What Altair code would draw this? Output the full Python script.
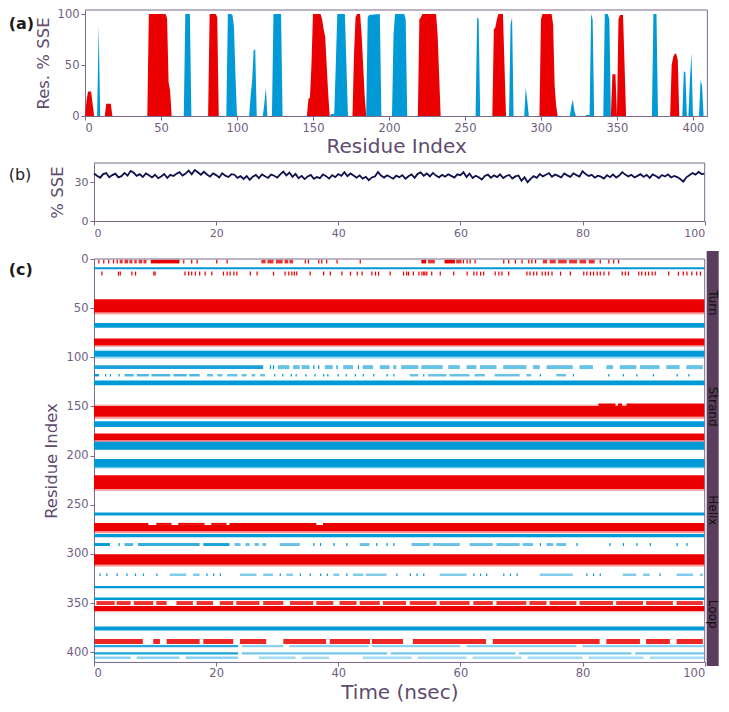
import altair as alt
import pandas as pd

FONT = "DejaVu Sans"
HELIX_COLOR = "#ea0000"
STRAND_COLOR = "#0199d6"
LINE_COLOR = "#0f0f4d"
LABEL_COLOR = "#6e5d80"
TITLE_COLOR = "#5e4b6e"
FRAME_COLOR = "#7b688a"
SIDEBAR_COLOR = "#5b3d5d"

# ---------------- panel (a): per-residue % SSE ----------------
helix_res = [0, 1, 2, 3, 4, 5, 6, 13, 14, 15, 16, 17, 18, 41, 42, 53, 54, 55, 56, 57,
             81, 82, 86, 87, 88, 146, 147, 148, 149, 150, 155, 156, 157, 158, 159, 160, 161,
             176, 177, 178, 179, 181, 182, 183, 184, 185, 219, 220, 221, 222, 231, 232, 233, 234,
             268, 269, 270, 271, 272, 275, 276, 277, 299, 300, 301, 307, 308, 309, 310, 311,
             346, 347, 349, 350, 351, 352, 354, 355, 356, 385, 386, 387, 388, 389, 390, 391, 409]
helix_pct = [0, 15, 24, 24, 24, 12, 0, 0, 12, 12, 12, 12, 0, 0, 100, 100, 96, 33, 25, 0,
             0, 100, 100, 97, 0, 0, 17, 18, 50, 100, 100, 95, 85, 78, 50, 22, 0,
             0, 60, 97, 100, 100, 80, 50, 20, 0, 0, 95, 97, 100, 100, 80, 40, 0,
             0, 85, 87, 95, 100, 100, 50, 0, 0, 95, 100, 100, 90, 30, 10, 0,
             0, 41, 41, 0, 95, 99, 99, 50, 0, 0, 50, 58, 61, 61, 55, 0, 0]
strand_res = [0, 8, 9, 10, 65, 66, 69, 70, 93, 94, 96, 97, 98, 99, 100,
              108, 109, 110, 111, 112, 113, 117, 118, 119, 120, 123, 124, 129, 130,
              161, 162, 164, 165, 166, 171, 172, 173, 185, 186, 187, 194, 195,
              202, 203, 204, 210, 211, 212, 257, 258, 259, 260, 279, 280, 281, 282,
              289, 290, 291, 292, 319, 320, 321, 322, 323, 329, 330, 332, 333, 334, 335,
              341, 342, 344, 345, 346, 373, 374, 376, 377, 393, 394, 395, 396,
              397, 398, 399, 400, 404, 405, 406, 407, 409]
strand_pct = [0, 0, 89, 0, 0, 100, 100, 0, 0, 100, 100, 99, 88, 40, 0,
              0, 20, 35, 65, 65, 0, 0, 12, 28, 0, 0, 100, 100, 0,
              0, 2, 2, 50, 100, 100, 50, 0, 0, 97, 99, 100, 0,
              0, 80, 100, 100, 95, 0, 0, 97, 95, 0, 0, 90, 97, 0,
              0, 28, 15, 0, 0, 10, 16, 5, 0, 0, 1, 1, 100, 95, 0,
              0, 100, 100, 95, 0, 0, 100, 100, 0, 0, 44, 43, 0,
              0, 35, 62, 0, 0, 35, 30, 0, 0]
res_ticks = [0, 50, 100, 150, 200, 250, 300, 350, 400]
pct_ticks = [0, 25, 50, 75, 100]
RES_MAX_A = 409.5
PCT_MAX = 104

# ---------------- panel (b): total % SSE vs time (every 0.5 ns) ----------------
sse_total = [
    36.9, 35.1, 33.6, 36.4, 37.2, 34.0, 35.6, 36.8, 33.9, 34.8, 37.3, 35.2, 38.9, 37.4, 35.0, 36.3, 34.1, 36.9, 35.5, 33.8,
    35.9, 33.2, 34.6, 36.5, 33.4, 35.8, 34.9, 36.7, 37.9, 35.3, 36.8, 39.1, 36.2, 39.6, 37.8, 35.9, 38.2, 36.1, 34.4, 36.9,
    35.6, 33.8, 37.0, 35.2, 34.1, 36.3, 35.9, 33.5, 34.8, 32.6, 34.9, 31.9, 34.4, 35.7, 33.2, 36.1, 34.7, 33.4, 36.0, 35.1,
    33.6, 36.2, 38.3, 35.4, 37.6, 34.3, 36.5, 33.2, 35.0, 32.5, 34.6, 35.8, 32.7, 34.1, 33.3, 36.2, 34.8, 32.9, 35.6, 34.0,
    36.4, 35.0, 37.8, 34.7, 36.9, 35.3, 33.6, 35.4, 32.9, 34.3, 31.7, 33.8, 34.6, 38.1, 35.2, 33.7, 35.5, 34.1, 32.8, 35.2,
    33.9, 35.6, 32.8, 34.7, 36.1, 33.5, 36.6, 37.7, 35.1, 36.9, 34.6, 37.3, 35.2, 33.9, 35.8, 34.4, 36.3, 35.0, 33.7, 36.2,
    35.5, 37.9, 34.2, 36.8, 33.4, 35.1, 34.0, 32.2, 34.9, 36.0, 33.6, 35.4, 34.1, 36.2, 33.3, 34.9, 35.7, 32.9, 34.6, 35.3,
    31.2, 33.9, 30.1, 32.7, 34.8, 33.5, 36.4, 34.6, 35.9, 37.2, 34.3, 36.1, 35.0, 33.8, 36.9, 35.4, 34.2, 37.0, 35.6, 34.5,
    38.6, 36.4, 34.9, 35.8, 33.6, 35.2, 34.4, 32.9, 35.6, 34.0, 36.1, 33.7, 35.3, 37.9, 36.0, 34.6, 35.9, 33.8, 35.0, 36.3,
    34.2, 35.8, 33.4, 36.1, 34.9, 33.3, 35.7, 34.5, 36.2, 33.8, 35.0, 34.1, 32.6, 30.6, 33.9, 35.5, 37.2, 36.0, 38.1, 36.4,
    36.7]
SSE_DT = 0.5
time_ticks = [0, 20, 40, 60, 80, 100]
sse_ticks = [0, 15, 30]
SSE_MAX = 45

# ---------------- panel (c): SSE timeline per residue ----------------
RES_MAX_C = 410
helix_bands = [(41, 54.5), (81, 88), (149.5, 160.5), (177.5, 184.5), (220, 234),
               (270.5, 277), (300.5, 311), (353, 358)]
strand_bands = [(8.4, 10.4), (65, 70), (93.5, 99.5), (123.5, 128.5), (165, 171), (186, 194),
                (203.4, 212), (257.8, 261), (279.7, 283), (332.6, 335), (344.3, 347), (374, 378)]
band_fringes = [("Helix", 54.5, 56.5, 0.35), ("Helix", 88, 89.5, 0.3), ("Helix", 148, 149.5, 0.3),
                ("Helix", 160.5, 162.5, 0.4), ("Helix", 184.5, 186.5, 0.45), ("Helix", 234, 236, 0.35),
                ("Helix", 277, 279, 0.4), ("Helix", 311, 313, 0.35), ("Helix", 358, 359.5, 0.3),
                ("Strand", 99.5, 101.5, 0.35), ("Strand", 212, 213.5, 0.25), ("Strand", 92, 93.5, 0.3)]
helix_150_top = [[82.6, 85.4, 1], [85.8, 86.5, 1], [87.2, 100, 1]]
helix_270_top = [[0, 8.9, 1], [10.2, 12.7, 1], [13.8, 18.1, 1], [19.2, 21.7, 1], [22.2, 36.4, 1], [37.5, 100, 1]]
helix_2_ticks = [0.7, 1.5, 2.3, 3.1, 3.7, 14.6, 15.9, 16.8, 20.0, 21.7, 34.5, 35.0, 36.7, 37.2, 38.0, 39.7,
                 43.5, 60.4, 61.0, 61.5, 62.3, 67.0, 67.8, 68.9, 70.0, 71.1, 71.6, 72.2, 82.8, 84.2, 85.0, 85.8]
helix_2_segs = [[4.2, 4.7, .8], [5.0, 5.6, .8], [5.8, 6.3, .8], [6.6, 7.0, .8], [7.3, 7.9, .8], [8.1, 8.6, .8],
                [9.3, 14.0, 1], [27.4, 28.1, .8], [28.4, 29.4, .8], [29.8, 30.9, .8], [31.2, 31.8, .8],
                [32.0, 32.6, .8], [53.6, 54.4, 1], [54.7, 55.8, .8], [57.4, 59.1, 1], [59.3, 60.2, .8],
                [73.5, 74.2, .8], [74.6, 75.6, .8], [76.0, 77.4, .8], [77.8, 79.1, .8], [79.5, 80.6, .8],
                [81.0, 82.0, .8]]
helix_15_ticks = [1.2, 3.9, 4.2, 6.1, 6.7, 9.7, 9.9, 14.8, 15.4, 15.9, 16.5, 17.2, 18.1, 19.2, 21.1, 21.7,
                  22.2, 22.8, 23.3, 25.5, 26.6, 29.3, 31.2, 31.8, 32.3, 32.7, 33.1, 35.3, 37.5, 38.6, 40.5,
                  41.9, 43.0, 43.8, 45.4, 46.0, 46.5, 48.4, 50.6, 51.1, 51.4, 52.2, 53.1, 53.6, 53.9, 54.1,
                  54.4, 55.2, 56.6, 58.8, 61.0, 62.1, 62.6, 63.2, 63.7, 65.6, 66.2, 66.7, 67.8, 70.8, 71.3,
                  71.9, 72.4, 73.3, 73.8, 74.3, 74.9, 76.3, 77.9, 80.1, 80.6, 81.2, 81.7, 82.3, 82.8, 83.4,
                  84.2, 86.4, 86.9, 87.4, 89.1, 89.6, 90.2, 90.7, 91.3, 91.8, 94.0, 95.6, 96.4, 97.0, 97.8,
                  98.6, 99.2]
strand_110 = [[0, 27.7, .9], [28.8, 29.0, 1], [29.3, 29.5, 1], [30.1, 32.0, .6], [32.6, 33.7, .6], [34.0, 35.3, .6],
              [35.9, 36.1, 1], [36.7, 36.9, 1], [37.8, 39.1, .6], [39.7, 39.9, 1], [40.8, 42.4, .6], [43.2, 43.4, 1],
              [44.0, 45.7, .6], [46.8, 48.4, .6], [49.0, 49.5, .6], [50.3, 53.1, .6], [53.6, 57.1, .6], [58.0, 59.9, .6],
              [61.0, 62.6, .6], [63.2, 65.9, .6], [67.0, 70.8, .6], [71.9, 73.0, .6], [74.1, 78.4, .6], [79.5, 81.7, .6],
              [83.9, 85.0, .6], [86.1, 88.8, .6], [89.4, 92.6, .6], [93.7, 95.9, .6], [97.0, 99.7, .6]]
strand_118 = [[0, 0.8, 1], [1.8, 2.0, 1], [2.6, 2.8, 1], [4.0, 4.2, 1], [5.0, 6.5, .7], [7.0, 9.0, .7], [9.4, 12.5, .7],
              [13.0, 15.2, .7], [15.6, 17.3, .7], [18.5, 19.5, .6], [20.2, 21.0, .6], [21.8, 23.5, .6], [24.2, 25.0, .6],
              [25.8, 26.4, .6], [27.2, 28.0, .6], [29.5, 29.7, 1], [30.8, 31.0, 1], [32.2, 32.4, 1], [33.0, 33.2, 1],
              [34.6, 34.8, 1], [36.1, 36.3, 1], [37.5, 37.7, 1], [38.2, 38.4, 1], [39.9, 40.1, 1], [41.2, 41.4, 1],
              [42.7, 42.9, 1], [44.0, 44.2, 1], [45.7, 45.9, 1], [47.9, 48.1, 1], [49.0, 49.2, 1], [51.7, 53.1, .6],
              [53.9, 54.1, 1], [54.7, 57.7, .6], [58.2, 61.5, .6], [62.3, 64.0, .6], [65.6, 69.7, .6], [70.8, 71.6, .6],
              [73.0, 73.2, 1], [75.7, 77.3, .6], [78.4, 78.6, 1], [84.2, 84.4, 1], [86.6, 86.8, 1], [88.8, 89.0, 1],
              [91.5, 91.7, 1], [95.4, 95.6, 1], [97.3, 97.5, 1]]
strand_290 = [[0, 2.6, 1], [4.0, 4.2, 1], [5.0, 6.4, .7], [7.2, 17.3, .8], [17.9, 22.2, .9], [23.0, 24.0, .6],
              [24.8, 25.5, .6], [26.3, 27.0, .6], [27.6, 28.2, .6], [30.4, 33.7, .6], [35.9, 36.1, 1], [37.0, 37.2, 1],
              [39.2, 39.4, 1], [41.3, 41.5, 1], [43.5, 45.1, .6], [46.2, 46.4, 1], [47.9, 48.1, 1], [49.0, 49.2, 1],
              [52.0, 55.0, .6], [55.5, 59.9, .6], [61.5, 65.3, .6], [65.9, 69.7, .6], [70.2, 71.9, .6], [73.0, 73.2, 1],
              [74.1, 75.2, .6], [75.7, 77.3, .6], [79.0, 79.2, 1], [84.4, 84.6, 1], [86.6, 86.8, 1], [88.8, 89.0, 1],
              [91.0, 91.2, 1], [95.4, 95.6, 1], [97.0, 97.2, 1]]
strand_321 = [[0.9, 1.1, 1], [2.0, 2.2, 1], [3.7, 3.9, 1], [5.3, 5.5, 1], [6.7, 6.9, 1], [8.0, 8.2, 1], [10.2, 10.4, 1],
              [12.4, 15.1, .5], [16.2, 17.3, .5], [18.4, 18.6, 1], [19.5, 19.7, 1], [20.6, 20.8, 1], [23.9, 26.6, .5],
              [27.7, 29.3, .5], [30.4, 30.6, 1], [31.5, 32.6, .5], [33.7, 33.9, 1], [35.3, 35.5, 1], [37.0, 37.2, 1],
              [38.1, 38.3, 1], [39.2, 40.2, .5], [41.3, 41.5, 1], [42.4, 44.1, .5], [44.5, 47.9, .5], [49.5, 49.7, 1],
              [51.7, 51.9, 1], [52.8, 53.0, 1], [53.9, 54.1, 1], [56.6, 61.0, .5], [62.1, 62.3, 1], [63.2, 63.4, 1],
              [64.2, 64.4, 1], [67.0, 67.2, 1], [68.1, 68.3, 1], [69.2, 69.4, 1], [73.0, 78.4, .5], [80.6, 80.8, 1],
              [81.7, 81.9, 1], [82.8, 83.0, 1], [86.6, 88.8, .5], [89.9, 91.0, .5], [92.6, 92.8, 1], [95.4, 98.1, .5],
              [99.2, 99.7, .5]]
helix_350 = [[0.4, 3.4, .8], [3.7, 6.0, .8], [6.5, 9.7, .8], [10.2, 11.9, .8], [13.5, 16.2, .8], [16.8, 19.5, .8],
             [20.6, 22.8, .8], [23.3, 27.1, .8], [27.7, 31.0, .8], [32.1, 35.9, .8], [36.4, 39.2, .8], [40.2, 43.0, .8],
             [43.5, 46.8, .8], [47.3, 51.1, .8], [51.7, 56.1, .8], [56.6, 61.5, .8], [62.1, 65.3, .8], [65.9, 70.8, .8],
             [71.3, 74.1, .8], [74.6, 79.0, .8], [79.5, 85.0, .8], [85.5, 89.9, .8], [90.4, 94.8, .8], [95.4, 99.7, .8]]
helix_389 = [[0.1, 8.0, .85], [9.7, 10.8, .85], [11.9, 17.3, .85], [17.9, 22.8, .85], [23.9, 28.2, .85],
             [31.0, 38.0, .85], [38.6, 45.2, .85], [45.5, 50.6, .85], [52.2, 64.2, .85], [65.3, 82.8, .85],
             [83.9, 89.4, .85], [90.4, 94.3, .85], [95.4, 99.7, .85]]
strand_394 = [[0, 23.6, .85], [24.2, 31.0, .45], [32.0, 45.0, .45], [45.5, 60.0, .45], [61.0, 79.0, .45], [80.0, 100, .45]]
strand_401 = [[0, 23.6, .9], [24.2, 48.0, .55], [48.6, 69.0, .55], [69.6, 88.0, .55], [88.6, 100, .55]]
strand_405 = [[0, 6.0, .45], [7.0, 14.0, .45], [15.0, 23.6, .45], [27.0, 33.0, .35], [34.0, 38.5, .35],
              [44.0, 52.0, .35], [53.0, 61.0, .35], [62.0, 70.0, .35], [71.0, 80.0, .35], [81.0, 90.0, .35],
              [91.0, 100, .35]]
sse_states = ["Turn", "Strand", "Helix", "Loop"]
TICK_NS = 0.2

# ---------------- build tables ----------------
records = []


def add_row(sse, r0, r1, segs):
    for s in segs:
        records.append({"sse": sse, "r0": r0, "r1": r1, "t0": s[0], "t1": s[1], "op": s[2]})


for sse, r0, r1, d in band_fringes:
    add_row(sse, r0, r1, [[0, 100, d]])
for r0, r1 in helix_bands:
    add_row("Helix", r0, r1, [[0, 100, 1]])
for r0, r1 in strand_bands:
    add_row("Strand", r0, r1, [[0, 100, 1]])
add_row("Helix", 147, 149.5, helix_150_top)
add_row("Helix", 268.5, 270.5, helix_270_top)
add_row("Helix", 0.8, 4.5, helix_2_segs + [[t, t + TICK_NS, 1] for t in helix_2_ticks])
add_row("Helix", 12.8, 16.9, [[t, t + TICK_NS, 1] for t in helix_15_ticks])
add_row("Strand", 108, 112, strand_110)
add_row("Strand", 117, 119.5, strand_118)
add_row("Strand", 289, 292, strand_290)
add_row("Strand", 320, 322.5, strand_321)
add_row("Helix", 348, 352, helix_350)
add_row("Helix", 386.6, 391.7, helix_389)
add_row("Strand", 392.7, 395, strand_394)
add_row("Strand", 400, 402.5, strand_401)
add_row("Strand", 404.5, 407, strand_405)
df_c = pd.DataFrame(records)

df_a = pd.DataFrame({
    "res": helix_res + strand_res,
    "pct": helix_pct + strand_pct,
    "sse": ["Helix"] * len(helix_res) + ["Strand"] * len(strand_res),
})
df_b = pd.DataFrame({"time": [i * SSE_DT for i in range(len(sse_total))], "pct": sse_total})
one = pd.DataFrame({"k": [0]})

sse_color = alt.Color("sse:N", scale=alt.Scale(domain=["Helix", "Strand"], range=[HELIX_COLOR, STRAND_COLOR]),
                      legend=None)

W = 610.7
H_A, H_B, H_C = 106, 58, 403
LABEL_X = -85.3


def panel_label(text, y, bold):
    return alt.Chart(pd.DataFrame({"t": [text]})).mark_text(
        align="left", baseline="middle", font=FONT, fontSize=16,
        fontWeight="bold" if bold else "normal", color="#1a1a1a"
    ).encode(text="t:N", x=alt.value(LABEL_X), y=alt.value(y))


def rule(**enc):
    return alt.Chart(one).mark_rule(color=FRAME_COLOR, strokeWidth=1).encode(**enc)


# ---- panel a
area_a = alt.Chart(df_a).mark_area(interpolate="linear").encode(
    x=alt.X("res:Q", scale=alt.Scale(domain=[0, RES_MAX_A], range=[-9, W + 2.7], nice=False, zero=False),
            axis=alt.Axis(values=res_ticks, title="Residue Index", titleFontSize=20, titlePadding=3,
                          labelFontSize=11.5)),
    y=alt.Y("pct:Q", stack=None, scale=alt.Scale(domain=[0, PCT_MAX], nice=False),
            axis=alt.Axis(values=pct_ticks, title="Res. % SSE", titleFontSize=16.5, titlePadding=6,
                          offset=9, labelFontSize=11.5)),
    color=sse_color,
)
panel_a = alt.layer(
    area_a,
    rule(x=alt.datum(0), x2=alt.datum(RES_MAX_A), y=alt.datum(PCT_MAX)),
    rule(x=alt.datum(RES_MAX_A), y=alt.datum(0), y2=alt.datum(PCT_MAX)),
    panel_label("(a)", 14, True),
).properties(width=W, height=H_A)

# ---- panel b
line_b = alt.Chart(df_b).mark_line(color=LINE_COLOR, strokeWidth=1.8).encode(
    x=alt.X("time:Q", scale=alt.Scale(domain=[0, 100], nice=False),
            axis=alt.Axis(values=time_ticks, title=None, labelFontSize=11)),
    y=alt.Y("pct:Q", scale=alt.Scale(domain=[0, SSE_MAX], nice=False),
            axis=alt.Axis(values=sse_ticks, title="% SSE", titleFontSize=16.5, titlePadding=9,
                          labelFontSize=11)),
)
panel_b = alt.layer(
    line_b,
    rule(x=alt.datum(0), x2=alt.datum(100), y=alt.datum(SSE_MAX)),
    rule(x=alt.datum(100), y=alt.datum(0), y2=alt.datum(SSE_MAX)),
    panel_label("(b)", 12, False),
).properties(width=W, height=H_B)

# ---- panel c
rect_c = alt.Chart(df_c).mark_rect(strokeWidth=0).encode(
    x=alt.X("t0:Q", scale=alt.Scale(domain=[0, 100], nice=False),
            axis=alt.Axis(values=time_ticks, title="Time (nsec)", titleFontSize=20, titlePadding=3,
                          labelFontSize=11.5)),
    x2="t1:Q",
    y=alt.Y("r0:Q", scale=alt.Scale(domain=[0, RES_MAX_C], nice=False, reverse=True),
            axis=alt.Axis(values=res_ticks, title="Residue Index", titleFontSize=16.5, titlePadding=7,
                          labelFontSize=11.5)),
    y2="r1:Q",
    color=sse_color,
    opacity=alt.Opacity("op:Q", scale=None),
)

SIDE_X0, SIDE_X1, SIDE_Y0, SIDE_Y1 = W + 2, W + 14, -8, H_C + 4
SIDE_EXT = 7.5
side_pad = alt.Chart(one).mark_rect(opacity=0).encode(
    x=alt.value(SIDE_X0), x2=alt.value(SIDE_X1), y=alt.value(SIDE_Y0 - SIDE_EXT), y2=alt.value(SIDE_Y0))
side_bar = alt.Chart(one).mark_rect(color=SIDEBAR_COLOR).encode(
    x=alt.value(SIDE_X0), x2=alt.value(SIDE_X1), y=alt.value(SIDE_Y0), y2=alt.value(SIDE_Y1))
side_texts = []
for i, name in enumerate(sse_states):
    yc = SIDE_Y0 + (i + 0.5) * (SIDE_Y1 - SIDE_Y0) / len(sse_states)
    side_texts.append(
        alt.Chart(pd.DataFrame({"t": [name]})).mark_text(
            angle=90, align="center", baseline="middle", font=FONT, fontSize=12, color="#111111"
        ).encode(text="t:N", x=alt.value((SIDE_X0 + SIDE_X1) / 2), y=alt.value(yc))
    )

panel_c = alt.layer(
    rect_c,
    rule(x=alt.datum(0), x2=alt.datum(100), y=alt.datum(0)),
    rule(x=alt.datum(100), y=alt.datum(0), y2=alt.datum(RES_MAX_C)),
    side_pad, side_bar, *side_texts,
    panel_label("(c)", 10.5, True),
).properties(width=W, height=H_C)

chart = alt.vconcat(panel_a, panel_b, panel_c, spacing=5).resolve_scale(
    x="independent", y="independent"
).properties(
    padding={"left": 0, "top": 0, "right": 0, "bottom": 0}
).configure_axis(
    grid=False, labelFont=FONT, titleFont=FONT, labelColor=LABEL_COLOR, titleColor=TITLE_COLOR,
    domainColor=FRAME_COLOR, tickColor=FRAME_COLOR, tickSize=4, labelPadding=2,
    titleFontWeight="normal", domainWidth=1, tickWidth=1
).configure_view(strokeWidth=0)

chart.save("out.html", embed_options={"renderer": "svg", "actions": False})
